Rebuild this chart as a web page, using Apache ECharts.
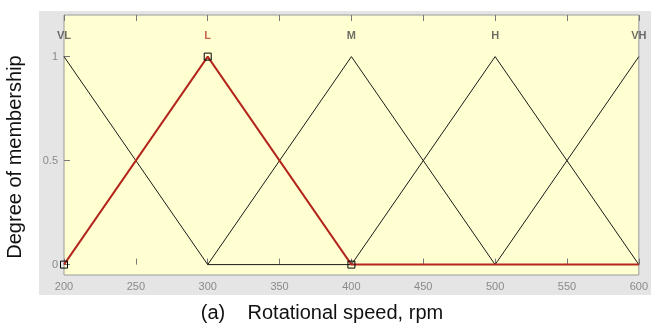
<!DOCTYPE html>
<html><head><meta charset="utf-8">
<script src="https://cdn.jsdelivr.net/npm/echarts@6/dist/echarts.min.js"></script>
<style>html,body{margin:0;padding:0;background:#fff}#c{width:651px;height:329px}</style>
</head><body><div id="c"></div>
<script>
const xTicks = [200, 250, 300, 350, 400, 450, 500, 550, 600];
const yTicks = [0, 0.5, 1];
const mfNames = ['VL', 'L', 'M', 'H', 'VH'];
const mfPeaks = [200, 300, 400, 500, 600];
const vl = [[200, 1], [300, 0], [400, 0]];
const m = [[300, 0], [400, 1], [500, 0]];
const h = [[400, 0], [500, 1], [600, 0]];
const vh = [[500, 0], [600, 1]];
const lSel = [[200, 0], [300, 1], [400, 0], [600, 0]];
const labelY = 1.1;
const xTitle = '(a)    Rotational speed, rpm';
const yTitle = 'Degree of membership';

const chart = echarts.init(document.getElementById('c'));
const black = (d) => ({type:'line', data:d, symbol:'none', lineStyle:{color:'#1a1a1a', width:1}, z:2, silent:true, animation:false});
chart.setOption({
  animation:false,
  graphic:[
    {type:'rect', shape:{x:39, y:11, width:612, height:284}, style:{fill:'#e5e5e5'}, z:-10, silent:true},
    {type:'text', x:322, y:313, style:{text:xTitle, fill:'#111', font:'20px "Liberation Sans"', textAlign:'center', textVerticalAlign:'middle'}},
    {type:'text', x:15, y:157, rotation:Math.PI/2, style:{text:yTitle, fill:'#111', font:'20px "Liberation Sans"', textAlign:'center', textVerticalAlign:'middle'}}
  ],
  grid:{left:64, right:8, top:15, bottom:54, show:true, backgroundColor:'#ffffd2', borderColor:'#9a9a9a', borderWidth:1},
  xAxis:[{type:'value', min:200, max:600, interval:50, position:'bottom',
    axisLine:{show:false}, splitLine:{show:false},
    axisTick:{inside:true, length:6, lineStyle:{color:'#777'}},
    axisLabel:{color:'#8a8a8a', fontSize:11, fontFamily:'Liberation Sans', margin:6}},
   {type:'value', min:200, max:600, interval:50, position:'top',
    axisLine:{show:false}, splitLine:{show:false},
    axisTick:{inside:true, length:6, lineStyle:{color:'#777'}}, axisLabel:{show:false}}],
  yAxis:[{type:'value', min:-0.05, max:1.2,
    axisLine:{show:false}, splitLine:{show:false},
    axisTick:{inside:true, length:6, customValues:yTicks, lineStyle:{color:'#777'}},
    axisLabel:{customValues:yTicks, color:'#8a8a8a', fontSize:11, fontFamily:'Liberation Sans', margin:6}}],
  series:[
    black(vl), black(m), black(h), black(vh),
    {type:'line', data:lSel.map((p,i)=> i===3 ? {value:p, symbol:'none'} : {value:p}),
     symbol:'rect', symbolSize:7, showSymbol:true,
     itemStyle:{color:'rgba(0,0,0,0)', borderColor:'#000', borderWidth:1},
     lineStyle:{color:'#b3261e', width:2}, z:3, animation:false},
    {type:'scatter', symbolSize:0, z:4, itemStyle:{color:'rgba(0,0,0,0)'},
     data:mfPeaks.map((x,i)=>({value:[x, labelY], name:mfNames[i],
       label:{color: mfNames[i]==='L' ? '#c0392b' : '#4a4a4a'}})),
     label:{show:true, position:'inside', formatter:(p)=>p.name, fontSize:11, fontWeight:'bold', fontFamily:'Liberation Sans'}}
  ]
});
</script></body></html>
